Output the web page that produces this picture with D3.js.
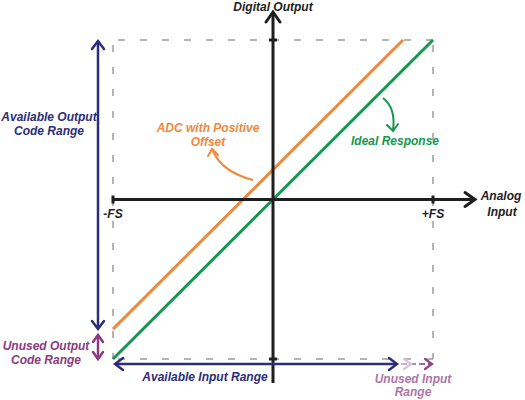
<!DOCTYPE html>
<html>
<head>
<meta charset="utf-8">
<script src="https://cdn.jsdelivr.net/npm/d3@7"></script>
<style>
  body { margin: 0; background: #fff; }
  text { font-family: "Liberation Sans", Arial, sans-serif; font-weight: bold; font-style: italic; }
</style>
</head>
<body>
<div id="main"></div>
<script>
// data: normalised input / output (-FS .. +FS)
const idealX = [-1, 1];
const idealY = [-1, 1];
const offsetX = [-1, 0.8125];
const offsetY = [-0.8125, 1];
const tickValues = [-1, 1];
const tickLabels = ["-FS", "+FS"];

const width = 525;
const height = 400;
const fontSize = 12;

// colours
const axisColor = "#1e1e1e";
const navy = "#2b2d78";
const purple = "#8a3a80";
const orange = "#f0883a";
const green = "#14984c";
const dashColor = "#9c9c9c";

const svg = d3.select('#main')
  .append('svg')
  .attr('width', width)
  .attr('height', height);

// scales
const xScale = d3.scaleLinear().domain([-1, 1]).range([113, 433]);
const yScale = d3.scaleLinear().domain([-1, 1]).range([359, 40]);
const x0 = xScale(0), y0 = yScale(0);

// dashed full-scale box
const box = svg.append('g')
  .attr('stroke', dashColor)
  .attr('stroke-width', 1.5)
  .attr('stroke-dasharray', '7,15')
  .attr('fill', 'none');
box.append('line').attr('x1', xScale(-1) + 5).attr('x2', xScale(1)).attr('y1', yScale(1)).attr('y2', yScale(1));
box.append('line').attr('x1', xScale(-1) + 5).attr('x2', xScale(1)).attr('y1', yScale(-1)).attr('y2', yScale(-1));
box.append('line').attr('x1', xScale(-1)).attr('x2', xScale(-1)).attr('y1', yScale(1) + 5).attr('y2', yScale(-1));
box.append('line').attr('x1', xScale(1)).attr('x2', xScale(1)).attr('y1', yScale(1) + 5).attr('y2', yScale(-1));

// transfer lines
const line = d3.line().x(d => xScale(d[0])).y(d => yScale(d[1]));
svg.append('path')
  .attr('d', line(d3.zip(offsetX, offsetY)))
  .attr('stroke', orange).attr('stroke-width', 3).attr('fill', 'none');
svg.append('path')
  .attr('d', line(d3.zip(idealX, idealY)))
  .attr('stroke', green).attr('stroke-width', 3).attr('fill', 'none');

// axes through the origin
svg.append('line')
  .attr('x1', xScale(-1)).attr('x2', 474)
  .attr('y1', y0).attr('y2', y0)
  .attr('stroke', axisColor).attr('stroke-width', 3);
svg.append('line')
  .attr('x1', x0).attr('x2', x0)
  .attr('y1', 13).attr('y2', 383)
  .attr('stroke', axisColor).attr('stroke-width', 3);

const chevron = (g, tip, dx, dy, color, w) => {
  g.append('path')
    .attr('d', `M${tip[0] + dx[0]},${tip[1] + dy[0]}L${tip[0]},${tip[1]}L${tip[0] + dx[1]},${tip[1] + dy[1]}`)
    .attr('stroke', color).attr('stroke-width', w).attr('fill', 'none')
    .attr('stroke-linecap', 'round').attr('stroke-linejoin', 'miter');
};
chevron(svg, [475, y0], [-10, -10], [-7, 7], axisColor, 3);
chevron(svg, [x0, 12], [-7, 7], [10, 10], axisColor, 3);

// small tick marks
tickValues.forEach(v => {
  svg.append('rect').attr('x', xScale(v) - 1.5).attr('y', y0 - 4).attr('width', 3).attr('height', 8).attr('fill', axisColor);
  svg.append('rect').attr('x', x0 - 4).attr('y', yScale(v) - 1.5).attr('width', 8).attr('height', 3).attr('fill', axisColor);
});

// tick labels
svg.selectAll('.tick-label').data(tickValues).enter()
  .append('text')
  .attr('class', 'tick-label')
  .attr('x', d => xScale(d))
  .attr('y', y0 + 18)
  .attr('text-anchor', 'middle')
  .attr('font-size', fontSize)
  .attr('fill', axisColor)
  .text((d, i) => tickLabels[i]);

// axis titles
svg.append('text').attr('x', x0).attr('y', 10.5).attr('text-anchor', 'middle')
  .attr('font-size', fontSize).attr('fill', axisColor).text('Digital Output');
svg.append('text').attr('x', 501).attr('y', 200).attr('text-anchor', 'middle')
  .attr('font-size', fontSize).attr('fill', axisColor).text('Analog');
svg.append('text').attr('x', 502).attr('y', 216).attr('text-anchor', 'middle')
  .attr('font-size', fontSize).attr('fill', axisColor).text('Input');

// range arrows (left)
const ax = 98;
svg.append('line').attr('x1', ax).attr('x2', ax).attr('y1', yScale(1) + 1).attr('y2', 328)
  .attr('stroke', navy).attr('stroke-width', 2.5);
chevron(svg, [ax, yScale(1) + 1], [-6, 6], [8, 8], navy, 2.5);
chevron(svg, [ax, 329], [-6, 6], [-8, -8], navy, 2.5);

svg.append('line').attr('x1', ax).attr('x2', ax).attr('y1', 335).attr('y2', yScale(-1))
  .attr('stroke', purple).attr('stroke-width', 2.5);
chevron(svg, [ax, 335], [-5, 5], [7, 7], purple, 2.5);
chevron(svg, [ax, yScale(-1)], [-5, 5], [-7, -7], purple, 2.5);

// range arrows (bottom)
const ay = 364;
svg.append('line').attr('x1', xScale(-1) + 2).attr('x2', xScale(0.775)).attr('y1', ay).attr('y2', ay)
  .attr('stroke', navy).attr('stroke-width', 2.5);
chevron(svg, [xScale(-1) + 2, ay], [8, 8], [-6, 6], navy, 2.5);
chevron(svg, [xScale(0.775), ay], [-8, -8], [-6, 6], navy, 2.5);

const defs = svg.append('defs');
const grad = defs.append('linearGradient').attr('id', 'fade')
  .attr('gradientUnits', 'userSpaceOnUse')
  .attr('x1', xScale(0.775)).attr('x2', xScale(1)).attr('y1', 0).attr('y2', 0);
grad.append('stop').attr('offset', '0%').attr('stop-color', '#ddcde0');
grad.append('stop').attr('offset', '100%').attr('stop-color', purple);
svg.append('line').attr('x1', xScale(0.775) + 4).attr('x2', xScale(1)).attr('y1', ay).attr('y2', ay)
  .attr('stroke', 'url(#fade)').attr('stroke-width', 2).attr('stroke-dasharray', '6,3');
chevron(svg, [xScale(1) - 1, ay], [-7, -7], [-5, 5], '#8f4585', 2.2);
chevron(svg, [xScale(0.775) + 14, ay], [-7, -7], [-5, 5], '#d6c4d8', 2.2);

// range labels
const label = (lines, x, y, color, size, opacity, gap) => {
  const t = svg.append('text').attr('x', x).attr('y', y).attr('text-anchor', 'middle')
    .attr('font-size', size).attr('fill', color).attr('opacity', opacity || 1);
  lines.forEach((s, i) => t.append('tspan').attr('x', x).attr('dy', i ? (gap || 14) : 0).text(s));
};
label(['Available Output', 'Code Range'], 49, 121, navy, fontSize);
label(['Unused Output', 'Code Range'], 46, 350, purple, fontSize);
label(['Available Input Range'], 205, 381, navy, fontSize);
label(['Unused Input', 'Range'], 413, 383, '#9c5f94', fontSize, 0.85, 13);

// series annotations
label(['ADC with Positive', 'Offset'], 208, 132, orange, fontSize);
label(['Ideal Response'], 395, 145, green, fontSize);

svg.append('path')
  .attr('d', 'M253,180 Q222,172 213,151')
  .attr('stroke', orange).attr('stroke-width', 2).attr('fill', 'none');
chevron(svg, [212, 149], [-4, 6], [7, 6], orange, 2);

svg.append('path')
  .attr('d', 'M383,98 Q396,108 393,130')
  .attr('stroke', green).attr('stroke-width', 2).attr('fill', 'none');
chevron(svg, [393, 131], [-6, 5], [-6, -7], green, 2);
</script>
</body>
</html>
